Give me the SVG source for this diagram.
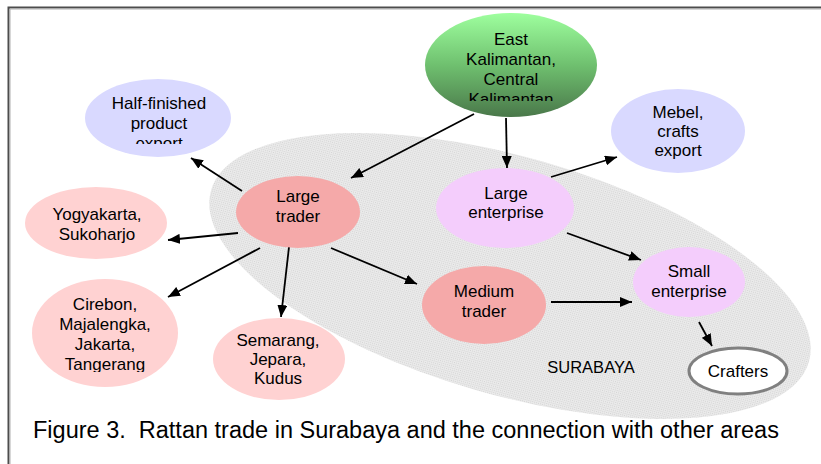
<svg xmlns="http://www.w3.org/2000/svg" width="821" height="464" viewBox="0 0 821 464">
<style>
.t{font-family:"Liberation Sans",Arial,sans-serif;font-size:17px;fill:#000;text-anchor:middle}
.c{stroke:#000;stroke-width:1.8;fill:none;marker-end:url(#ah)}
.lav{fill:#d9d9ff}
.red{fill:#f5a9a9}
.pink{fill:#ffd2d2}
.mag{fill:#f4cdfc}
</style>
<defs>
<linearGradient id="gr" x1="0" y1="0" x2="0" y2="1">
<stop offset="0" stop-color="#9eff9e"/>
<stop offset="0.5" stop-color="#6fc06f"/>
<stop offset="1" stop-color="#4a784a"/>
</linearGradient>
<pattern id="dots" width="2" height="2" patternUnits="userSpaceOnUse">
<rect width="2" height="2" fill="#ebebeb"/>
<rect width="1" height="1" fill="#d3d3d3"/>
</pattern>
<marker id="ah" viewBox="0 0 12 10" refX="12" refY="5" markerWidth="12" markerHeight="10" markerUnits="userSpaceOnUse" orient="auto">
<path d="M0,0 L12,5 L0,10 Z" fill="#000"/>
</marker>
<clipPath id="cE"><rect x="420" y="0" width="180" height="101"/></clipPath>
<clipPath id="cH"><rect x="80" y="70" width="160" height="74"/></clipPath>
<clipPath id="cC"><rect x="25" y="270" width="160" height="102"/></clipPath>
</defs>
<rect width="821" height="464" fill="#fff"/>
<path d="M8.5,464 V7.5 H821" fill="none" stroke="#4d4d4d" stroke-width="2"/>
<path d="M10,464 V9 H821" fill="none" stroke="#b0b0b0" stroke-width="1"/>

<g id="surabaya">
<ellipse cx="510" cy="276" rx="311" ry="119" transform="rotate(16 510 276)" fill="url(#dots)"/>
<text class="t" x="591" y="373" style="font-size:16.5px">SURABAYA</text>
</g>

<g id="connectors">
<line class="c" x1="474" y1="114" x2="351" y2="178"/>
<line class="c" x1="506" y1="118" x2="507" y2="168"/>
<line class="c" x1="242" y1="191" x2="191" y2="158"/>
<line class="c" x1="238" y1="233" x2="168" y2="240"/>
<line class="c" x1="260" y1="248" x2="168" y2="297"/>
<line class="c" x1="289" y1="247" x2="281" y2="317"/>
<line class="c" x1="331" y1="248" x2="417" y2="284"/>
<line class="c" x1="551" y1="177" x2="617" y2="157"/>
<line class="c" x1="567" y1="233" x2="641" y2="260"/>
<line class="c" x1="551" y1="302" x2="632" y2="302"/>
<line class="c" x1="699" y1="322" x2="712" y2="346"/>
</g>

<g id="east-kalimantan">
<ellipse cx="511" cy="65" rx="86" ry="52" fill="url(#gr)"/>
<g clip-path="url(#cE)">
<text class="t" x="511" y="45">East</text>
<text class="t" x="511" y="65">Kalimantan,</text>
<text class="t" x="511" y="85">Central</text>
<text class="t" x="511" y="105">Kalimantan</text>
</g>
</g>

<g id="half-finished">
<ellipse class="lav" cx="158" cy="118" rx="73" ry="39"/>
<g clip-path="url(#cH)">
<text class="t" x="159" y="109">Half-finished</text>
<text class="t" x="159" y="129">product</text>
<text class="t" x="159" y="149">export</text>
</g>
</g>

<g id="mebel">
<ellipse class="lav" cx="678" cy="131" rx="67" ry="42"/>
<text class="t" x="678" y="118">Mebel,</text>
<text class="t" x="678" y="137">crafts</text>
<text class="t" x="678" y="156">export</text>
</g>

<g id="large-trader">
<ellipse class="red" cx="298" cy="212" rx="62" ry="36"/>
<text class="t" x="298" y="202">Large</text>
<text class="t" x="298" y="222">trader</text>
</g>

<g id="large-enterprise">
<ellipse class="mag" cx="505" cy="208" rx="69" ry="40"/>
<text class="t" x="506" y="199">Large</text>
<text class="t" x="506" y="218">enterprise</text>
</g>

<g id="yogyakarta">
<ellipse class="pink" cx="96" cy="223" rx="71" ry="36"/>
<text class="t" x="97" y="220">Yogyakarta,</text>
<text class="t" x="97" y="240">Sukoharjo</text>
</g>

<g id="cirebon">
<ellipse class="pink" cx="105" cy="333" rx="73" ry="54"/>
<g clip-path="url(#cC)">
<text class="t" x="105" y="310">Cirebon,</text>
<text class="t" x="105" y="330">Majalengka,</text>
<text class="t" x="105" y="350">Jakarta,</text>
<text class="t" x="105" y="370">Tangerang</text>
</g>
</g>

<g id="semarang">
<ellipse class="pink" cx="279" cy="359" rx="66" ry="41"/>
<text class="t" x="278" y="346">Semarang,</text>
<text class="t" x="278" y="365">Jepara,</text>
<text class="t" x="278" y="384">Kudus</text>
</g>

<g id="medium-trader">
<ellipse class="red" cx="484" cy="305" rx="62" ry="39"/>
<text class="t" x="484" y="297">Medium</text>
<text class="t" x="484" y="317">trader</text>
</g>

<g id="small-enterprise">
<ellipse class="mag" cx="689" cy="282" rx="56" ry="35"/>
<text class="t" x="689" y="277">Small</text>
<text class="t" x="689" y="297">enterprise</text>
</g>

<g id="crafters">
<ellipse cx="738" cy="371" rx="49" ry="23" fill="#fff" stroke="#808080" stroke-width="3"/>
<text class="t" x="738" y="377">Crafters</text>
</g>

<text x="33" y="438" style="font-family:'Liberation Sans',Arial,sans-serif;font-size:23.5px;fill:#000" xml:space="preserve">Figure 3.  Rattan trade in Surabaya and the connection with other areas</text>
</svg>
